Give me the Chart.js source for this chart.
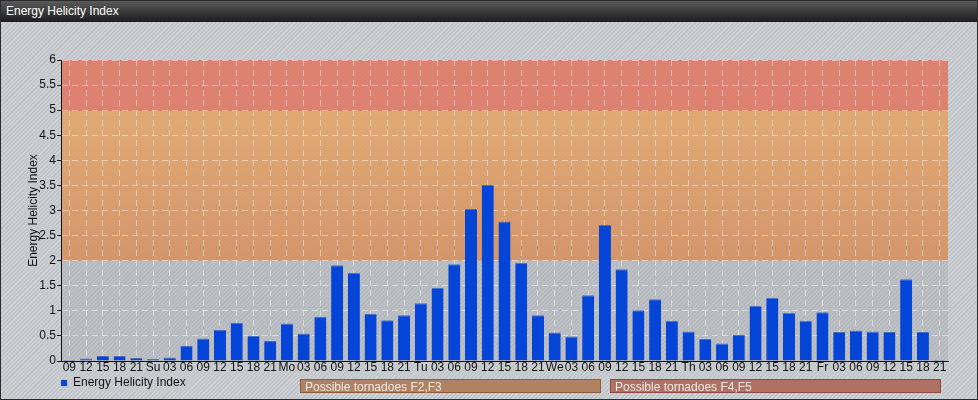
<!DOCTYPE html>
<html>
<head>
<meta charset="utf-8">
<title>Energy Helicity Index</title>
<script src="https://cdn.jsdelivr.net/npm/chart.js@4.4.0/dist/chart.umd.min.js"></script>
<style>
  body { margin: 0; background: #fff; font-family: 'Liberation Sans', Arial, sans-serif; }
  #frame {
    position: relative; width: 976px; height: 398px; border: 1px solid #2b2b2b; overflow: hidden;
    background: repeating-linear-gradient(135deg, #cbcfd3 0px, #cbcfd3 1.5px, #c2c6ca 1.5px, #c2c6ca 3px);
  }
  #head {
    height: 21px; line-height: 21px; padding-left: 5px; color: #fff; font-size: 12px;
    background: linear-gradient(#5a5a5a, #1d1d1d);
  }
  #chart { position: absolute; left: 0; top: 21px; }
  .risk {
    position: absolute; top: 378px; height: 14px; line-height: 14px; font-size: 12px;
    color: #f4ece6; padding-left: 4px; box-sizing: border-box;
  }
  #f23 { left: 299px; width: 301px; background: #b08262; border: 1px solid #8d5b3e; }
  #f45 { left: 609px; width: 331px; background: #b07064; border: 1px solid #8f4a40; }
</style>
</head>
<body>
<div id="frame">
  <div id="head">Energy Helicity Index</div>
  <canvas id="chart" width="976" height="377"></canvas>
  <div class="risk" id="f23">Possible tornadoes F2,F3</div>
  <div class="risk" id="f45">Possible tornadoes F4,F5</div>
</div>
<script>
// 3-hourly steps, day names mark 00 UTC
var hours = ['09', '12', '15', '18', '21',
  'Su', '03', '06', '09', '12', '15', '18', '21',
  'Mo', '03', '06', '09', '12', '15', '18', '21',
  'Tu', '03', '06', '09', '12', '15', '18', '21',
  'We', '03', '06', '09', '12', '15', '18', '21',
  'Th', '03', '06', '09', '12', '15', '18', '21',
  'Fr', '03', '06', '09', '12', '15', '18', '21'
];
var ehi = [0.02, 0.05, 0.10, 0.10, 0.06,
  0.04, 0.07, 0.30, 0.45, 0.62, 0.76, 0.50, 0.40,
  0.75, 0.55, 0.88, 1.91, 1.76, 0.94, 0.81, 0.91,
  1.15, 1.46, 1.93, 3.03, 3.51, 2.78, 1.96, 0.91,
  0.57, 0.49, 1.31, 2.71, 1.83, 1.01, 1.23, 0.80,
  0.59, 0.44, 0.35, 0.52, 1.10, 1.26, 0.96, 0.80,
  0.97, 0.58, 0.61, 0.59, 0.58, 1.63, 0.58, 0.02
];
// limits of the risk zones
var zoneLimits = [0, 2, 5, 6];

var zoneFills = [
  'rgba(150,155,160,0.28)',
  ['rgba(230,162,96,0.82)', 'rgba(214,138,86,0.82)'],
  'rgba(226,112,92,0.82)'
];

var zonePlugin = {
  id: 'zones',
  beforeDraw: function (chart) {
    var ctx = chart.ctx, a = chart.chartArea, y = chart.scales.y;
    ctx.save();
    for (var i = 0; i < zoneLimits.length - 1; i++) {
      var top = y.getPixelForValue(zoneLimits[i + 1]);
      var bottom = y.getPixelForValue(zoneLimits[i]);
      var fill = zoneFills[i];
      if (Array.isArray(fill)) {
        var g = ctx.createLinearGradient(0, top, 0, bottom);
        g.addColorStop(0, fill[0]);
        g.addColorStop(1, fill[1]);
        fill = g;
      }
      ctx.fillStyle = fill;
      ctx.fillRect(a.left, top, a.right - a.left, bottom - top);
    }
    // thin line at the top of the F2,F3 zone
    var y5 = Math.round(y.getPixelForValue(zoneLimits[2])) + 0.5;
    ctx.strokeStyle = 'rgba(235,105,60,0.8)';
    ctx.lineWidth = 1;
    ctx.beginPath();
    ctx.moveTo(a.left, y5);
    ctx.lineTo(a.right, y5);
    ctx.stroke();
    ctx.restore();
  }
};

Chart.defaults.font.family = "'Liberation Sans', Arial, sans-serif";
Chart.defaults.font.size = 12;
Chart.defaults.color = '#111';

new Chart(document.getElementById('chart'), {
  type: 'bar',
  data: {
    labels: hours,
    datasets: [{
      label: 'Energy Helicity Index',
      data: ehi,
      backgroundColor: '#0445d8',
      borderColor: '#4a6cc4',
      borderWidth: { top: 1, left: 0, right: 0, bottom: 0 },
      borderSkipped: 'bottom',
      barPercentage: 0.72,
      categoryPercentage: 1
    }]
  },
  options: {
    responsive: false,
    animation: false,
    layout: { padding: { top: 38, right: 29, bottom: 0, left: 0 } },
    plugins: {
      tooltip: { enabled: false },
      legend: {
        position: 'bottom',
        align: 'start',
        fullSize: false,
        labels: { boxWidth: 6, boxHeight: 6, padding: 0, color: '#111', font: { size: 12 } }
      }
    },
    scales: {
      x: {
        grid: { offset: false, color: 'rgba(255,255,255,0.45)', tickColor: 'rgba(0,0,0,0)', tickLength: 1 },
        border: { color: '#111', dash: [6, 4] },
        ticks: { autoSkip: false, maxRotation: 0, padding: -2, color: '#111' },
        afterFit: function (s) { s.height = 16; }
      },
      y: {
        min: 0,
        max: 6,
        ticks: {
          stepSize: 0.5, padding: 1, color: '#111',
          callback: function (v) { return String(v); }
        },
        grid: { color: 'rgba(255,255,255,0.45)', tickColor: '#111', tickLength: 4 },
        border: { color: '#111', dash: [6, 4] },
        title: { display: true, text: 'Energy Helicity Index', color: '#111', padding: { top: 25, bottom: 0 } },
        afterFit: function (s) { s.width = 60; }
      }
    }
  },
  plugins: [zonePlugin]
});
</script>
</body>
</html>
